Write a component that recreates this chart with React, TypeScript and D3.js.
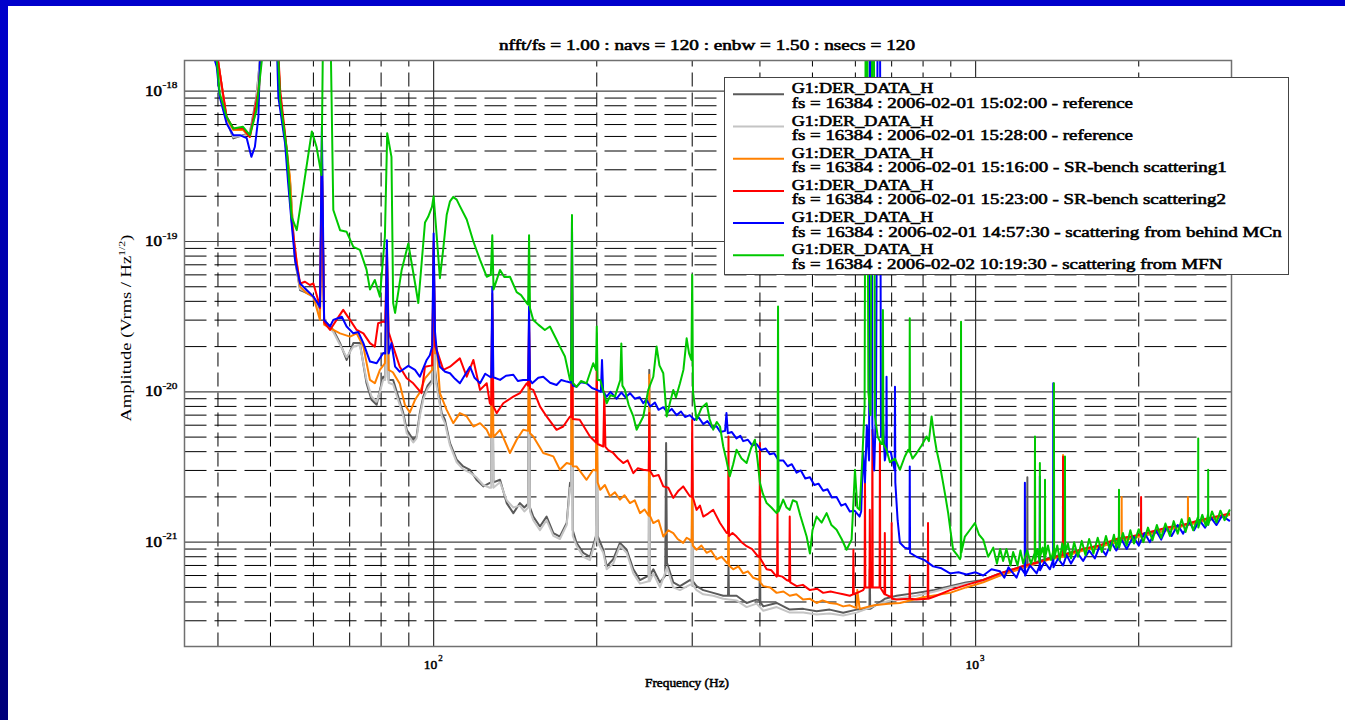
import React from 'react';
import * as d3 from 'd3';

type Pt = [number, number];

// ---------- text / categories ----------
const titleText = 'nfft/fs = 1.00 : navs = 120 : enbw = 1.50 : nsecs = 120';
const xAxisLabel = 'Frequency (Hz)';
const yAxisLabelMain = 'Amplitude (Vrms / Hz';
const yAxisLabelSup = '1/2';
const yAxisLabelEnd = ')';
const channelNames = ['G1:DER_DATA_H', 'G1:DER_DATA_H', 'G1:DER_DATA_H', 'G1:DER_DATA_H', 'G1:DER_DATA_H', 'G1:DER_DATA_H'];
const seriesDescs = [
  'fs = 16384 : 2006-02-01 15:02:00 - reference',
  'fs = 16384 : 2006-02-01 15:28:00 - reference',
  'fs = 16384 : 2006-02-01 15:16:00 - SR-bench scattering1',
  'fs = 16384 : 2006-02-01 15:23:00 - SR-bench scattering2',
  'fs = 16384 : 2006-02-01 14:57:30 - scattering from behind MCn',
  'fs = 16384 : 2006-02-02 10:19:30 - scattering from MFN',
];
const yTickExponents = [-21, -20, -19, -18];
const xTickExponents = [2, 3];

// axis extents (Hz, and amplitude in units of 1e-21 Vrms/Hz^1/2)
const AMP_UNIT_EXP = -21;
const freqRange: Pt = [34.7, 2966];
const ampRange: Pt = [0.2023, 1600];

// ---------- series: [frequency Hz, amplitude x 1e-21] ----------
const refA: Pt[] = [[36, 5000],[40, 1600],[41.5, 641],[42.7, 485],[44.5, 510],[45.8, 526],[47.1, 917],[47.8, 1600],[49, 5000],[50, 30000],[51, 5000],[52.1, 871],[54.3, 256],[55.5, 75],[56.7, 47.6],[58.3, 45.5],[60, 43],[61.7, 34],[62.2, 300],[62.8, 30],[65.3, 25.8],[67.2, 21.1],[69.1, 16.3],[71.1, 21.1],[73.1, 21.1],[75.2, 11.4],[76.8, 8.85],[78.5, 8.2],[79.6, 10.3],[80.7, 12.6],[81.4, 12.5],[82, 70],[82.6, 12],[84.2, 12],[87.9, 7.22],[89.2, 5.59],[91.7, 4.8],[93, 5.05],[94.3, 7.22],[95.7, 9.3],[97.5, 11],[99.4, 12],[100, 80],[100.6, 14],[101.3, 11.4],[103.5, 7.22],[104.9, 6.52],[107.2, 4.56],[110.3, 3.53],[113.4, 3.19],[116.7, 3.03],[120, 2.6],[123.5, 2.35],[127, 2.48],[127.7, 2.5],[128.3, 30],[128.9, 2.5],[132.6, 2.6],[136.4, 1.82],[140.3, 1.56],[144.3, 1.82],[147, 1.7],[149.4, 1.8],[150, 20],[150.6, 1.7],[152.7, 1.48],[157.1, 1.27],[161.6, 1.48],[166.3, 1.15],[171, 1.09],[176, 1.34],[178.5, 2.48],[179.4, 2.4],[180, 60],[180.6, 1.2],[183.5, 0.99],[188.8, 0.85],[194.3, 0.8],[199.3, 1.1],[200, 8],[200.7, 1.1],[205.6, 0.89],[208.6, 0.69],[214.5, 0.77],[220.7, 0.99],[227.1, 0.89],[233.6, 0.66],[240.3, 0.56],[249.4, 0.6],[250, 14],[250.6, 0.6],[254.3, 0.66],[261.6, 0.54],[267.5, 0.6],[268.5, 4.56],[269.5, 0.73],[276.8, 0.54],[284.8, 0.51],[297, 0.56],[299.3, 0.55],[300, 3],[300.7, 0.55],[305.6, 0.51],[314.4, 0.48],[328, 0.46],[342.3, 0.44],[349.3, 0.44],[350, 0.7],[350.7, 0.44],[362.2, 0.44],[378, 0.394],[394.4, 0.415],[399.3, 0.41],[400, 1.0],[400.7, 0.4],[405.7, 0.374],[429.4, 0.394],[454, 0.356],[480.8, 0.36],[508.9, 0.347],[538, 0.356],[569.8, 0.339],[603.2, 0.356],[637, 0.36],[638, 0.66],[639, 0.36],[680, 0.42],[715, 0.44],[778, 0.46],[840, 0.48],[897, 0.51],[960, 0.54],[1033, 0.56],[1109, 0.62],[1173, 0.66],[1233, 0.7],[1245, 0.7],[1246, 2.7],[1247, 0.7],[1296, 0.74],[1371, 0.79],[1472, 0.84],[1579, 0.9],[1694, 0.95],[1818, 1.02],[1954, 1.08],[2097, 1.15],[2251, 1.22],[2415, 1.3],[2587, 1.38],[2783, 1.46],[2946, 1.54]];

const refB: Pt[] = [[36, 5000],[40, 1600],[41.5, 650],[42.7, 495],[44.5, 505],[45.8, 515],[47.1, 880],[47.8, 1600],[49, 5000],[50, 30000],[51, 5000],[52.1, 880],[54.3, 260],[55.5, 78],[56.7, 48.5],[58.3, 46],[60, 42.5],[61.7, 33],[62.2, 280],[62.8, 29],[65.3, 25],[67.2, 20.5],[69.1, 17],[71.1, 20],[73.1, 20.5],[75.2, 12],[76.8, 9.3],[78.5, 8.6],[79.6, 10],[80.7, 12],[81.4, 12],[82, 65],[82.6, 11.5],[84.2, 11.2],[87.9, 6.9],[89.2, 5.3],[91.7, 4.6],[93, 4.9],[94.3, 6.9],[95.7, 8.9],[97.5, 10.5],[99.4, 11.5],[100, 75],[100.6, 13],[101.3, 10.8],[103.5, 6.9],[104.9, 6.2],[107.2, 4.4],[110.3, 3.4],[113.4, 3.05],[116.7, 2.9],[120, 2.7],[123.5, 2.4],[127, 2.3],[127.7, 2.3],[128.3, 28],[128.9, 2.3],[132.6, 2.5],[136.4, 1.9],[140.3, 1.7],[144.3, 1.75],[147, 1.6],[149.4, 1.7],[150, 18],[150.6, 1.6],[152.7, 1.4],[157.1, 1.2],[161.6, 1.4],[166.3, 1.1],[171, 1.05],[176, 1.3],[178.5, 2.3],[179.4, 2.3],[180, 55],[180.6, 1.1],[183.5, 0.95],[188.8, 0.8],[194.3, 0.76],[199.3, 1.05],[200, 7],[200.7, 1.0],[205.6, 0.85],[208.6, 0.66],[214.5, 0.72],[220.7, 0.95],[227.1, 0.85],[233.6, 0.62],[240.3, 0.53],[249.4, 0.55],[250, 12],[250.6, 0.55],[254.3, 0.62],[261.6, 0.5],[269.5, 0.68],[276.8, 0.5],[284.8, 0.48],[297, 0.52],[299.3, 0.52],[300, 2.6],[300.7, 0.52],[305.6, 0.48],[314.4, 0.45],[328, 0.44],[342.3, 0.42],[362.2, 0.41],[378, 0.37],[394.4, 0.39],[405.7, 0.35],[429.4, 0.37],[454, 0.34],[480.8, 0.34],[508.9, 0.33],[538, 0.335],[569.8, 0.325],[603.2, 0.34],[680, 0.4],[715, 0.42],[778, 0.44],[840, 0.47],[897, 0.5],[960, 0.53],[1033, 0.55],[1109, 0.6],[1173, 0.64],[1233, 0.68],[1296, 0.72],[1371, 0.77],[1472, 0.82],[1579, 0.88],[1694, 0.93],[1818, 1.0],[1954, 1.06],[2097, 1.12],[2251, 1.2],[2415, 1.28],[2587, 1.36],[2783, 1.44],[2946, 1.52]];

const srBench1: Pt[] = [[36, 5000],[40, 1600],[41.5, 660],[42.7, 551],[44.5, 551],[45.8, 495],[47.5, 871],[48, 1600],[49, 5000],[50, 30000],[51, 5000],[52.1, 940],[54.3, 270],[55.1, 108],[56.7, 50.1],[58.3, 45.3],[60, 43],[61.7, 30.1],[62.2, 300],[62.8, 28],[65.3, 25.8],[67.2, 24.5],[70.1, 23.3],[72.1, 24.5],[74.2, 20],[76.3, 12],[77.9, 11.4],[79.6, 14],[81.3, 15.5],[82, 80],[82.6, 14],[84.1, 13.5],[86.6, 11.3],[88.5, 8.2],[90.4, 7.3],[92.4, 8.85],[94.3, 9.9],[96.4, 12.3],[99.4, 14],[100, 90],[100.6, 18],[101.3, 20],[102.7, 9.8],[105.7, 7.59],[108.7, 6.19],[111.8, 7.22],[115.1, 6.86],[118.4, 5.88],[121.8, 6.19],[125.3, 5.59],[127, 5.05],[127.7, 5],[128.3, 45],[128.9, 5],[132.6, 5.59],[138.3, 3.92],[142.3, 4.8],[146.3, 5.59],[149.4, 5.5],[150, 25],[150.6, 5.3],[152.7, 5.05],[159.3, 3.92],[166.3, 3.72],[171, 3.03],[176, 3.36],[179.4, 3.3],[180, 80],[180.6, 3.2],[183.5, 3.19],[191.5, 2.6],[197, 3.03],[199.3, 3],[200, 12],[200.7, 2.5],[203, 2.23],[207, 2.4],[211.6, 2.02],[216, 2.15],[220.7, 1.92],[225, 2.05],[230.3, 1.82],[235, 1.9],[240.3, 1.56],[245, 1.65],[249.4, 1.5],[250, 13],[250.6, 1.5],[254.3, 1.34],[260, 1.4],[265.3, 1.09],[271, 1.2],[276.8, 1.15],[282, 1.05],[288.7, 0.99],[293, 1.07],[297, 1.04],[299.3, 1.0],[300, 4],[300.7, 0.95],[305.6, 0.89],[312, 0.95],[318.9, 0.85],[325, 0.88],[332.7, 0.77],[340, 0.8],[347.3, 0.73],[349.3, 0.72],[350, 2],[350.7, 0.7],[357.1, 0.66],[365, 0.69],[372.5, 0.62],[380, 0.64],[388.8, 0.58],[399.3, 0.56],[400, 1.5],[400.7, 0.54],[405.7, 0.51],[418, 0.5],[429.4, 0.46],[442, 0.47],[454, 0.44],[467, 0.45],[480.8, 0.415],[495, 0.42],[508.9, 0.394],[522, 0.41],[538, 0.394],[553, 0.39],[569.8, 0.374],[586, 0.38],[603.2, 0.364],[605, 0.48],[611, 0.36],[650, 0.38],[690, 0.39],[725, 0.394],[800, 0.43],[897, 0.46],[960, 0.5],[1033, 0.54],[1109, 0.6],[1173, 0.64],[1233, 0.68],[1286, 0.72],[1287, 5.0],[1288, 0.72],[1371, 0.77],[1449, 0.8],[1450, 3.8],[1451, 0.8],[1579, 0.88],[1694, 0.93],[1818, 1.0],[1859, 1.02],[1860, 2.0],[1861, 1.02],[1954, 1.07],[2097, 1.13],[2251, 1.2],[2415, 1.28],[2464, 1.3],[2465, 2.0],[2466, 1.3],[2587, 1.36],[2783, 1.44],[2946, 1.52]];

const srBench2: Pt[] = [[36, 5000],[40, 1600],[41.5, 675],[42.7, 565],[44.5, 565],[45.8, 497],[47.5, 1015],[48, 1600],[49, 5000],[50, 30000],[51, 5000],[52.1, 1015],[53.6, 405],[54.7, 139],[55.9, 71.5],[56.7, 52.6],[57.9, 54],[59.1, 51.4],[60, 52.6],[61.2, 40.9],[61.7, 36],[62.2, 400],[62.8, 29],[64.4, 25.8],[66.2, 30.1],[68.1, 35.1],[70.1, 30.1],[72.1, 25.8],[74.2, 24.5],[76.3, 21.1],[77.9, 20],[79, 28.6],[80.7, 29.3],[81.4, 29],[82, 90],[82.6, 25],[84.2, 20],[86.6, 14.7],[89.2, 12.3],[91.7, 11.4],[95, 9.8],[96.4, 14.7],[99.4, 15],[100, 100],[100.6, 20],[101.3, 19],[104.2, 14],[107.2, 14.7],[111.8, 16.7],[115.1, 12.6],[118.4, 16.3],[121.8, 10.3],[125.3, 11.4],[127, 8.4],[127.7, 8.2],[128.3, 40],[128.9, 8],[130.7, 7.22],[134.4, 8.4],[140.3, 9.3],[144.3, 9.8],[148.5, 11.4],[149.4, 11],[150, 30],[150.6, 10.5],[152.7, 10.3],[157.1, 8],[161.6, 6.86],[168.6, 5.59],[173.4, 5.88],[178.5, 6.86],[179.4, 6.8],[180, 100],[180.6, 6.6],[186, 6.52],[194.3, 5.05],[199.3, 4.6],[200, 16],[200.7, 4.5],[205.6, 4.33],[206.5, 10],[207.5, 4.3],[210, 4.1],[214.5, 3.92],[219, 3.6],[223.8, 3.36],[228, 3.5],[233.6, 2.88],[238, 3.1],[243.7, 3.03],[249.4, 3],[250, 7.22],[250.6, 3],[254.3, 2.74],[260, 2.8],[265.3, 2.35],[271, 2.3],[276.8, 1.97],[283, 2.2],[288.7, 2.35],[297, 2.02],[299.3, 2],[300, 6.5],[300.7, 2],[305.6, 1.64],[310, 1.75],[314.4, 1.48],[321, 1.55],[328, 1.64],[337.6, 1.34],[347.3, 1.15],[349.3, 1.15],[350, 5.05],[350.7, 1.1],[356, 1.15],[362.2, 1.09],[370, 1.0],[378, 0.94],[387, 0.9],[397, 0.8],[399.3, 0.8],[400, 4.56],[400.7, 0.78],[411.6, 0.66],[420, 0.65],[429.4, 0.59],[430.3, 0.6],[431, 1.64],[431.7, 0.6],[440, 0.59],[448, 0.56],[453, 0.55],[454, 1.48],[455, 0.54],[467.5, 0.51],[480, 0.52],[494.7, 0.48],[510, 0.49],[523.3, 0.46],[540, 0.47],[554, 0.46],[570, 0.45],[586, 0.44],[594, 0.45],[595, 0.89],[596, 0.45],[620.3, 0.48],[624, 0.5],[625, 3],[626, 0.5],[637, 0.5],[638, 1.64],[639, 0.5],[644, 0.5],[645, 5.6],[646, 0.5],[665, 0.5],[666, 4.6],[667, 0.5],[679, 0.45],[680, 1.15],[681, 0.45],[699, 0.43],[700, 1.34],[701, 0.42],[715, 0.415],[755, 0.42],[756, 0.6],[757, 0.42],[778, 0.415],[816, 0.42],[817, 1.34],[818, 0.42],[847, 0.44],[897, 0.48],[962, 0.52],[1033, 0.56],[1109, 0.62],[1173, 0.66],[1233, 0.7],[1296, 0.73],[1371, 0.78],[1449, 0.82],[1450, 3.7],[1451, 0.82],[1579, 0.9],[1694, 0.95],[1818, 1.05],[1954, 1.1],[2019, 1.13],[2020, 2.0],[2021, 1.13],[2097, 1.17],[2251, 1.25],[2415, 1.3],[2587, 1.4],[2783, 1.48],[2946, 1.55]];

const behindMCn: Pt[] = [[36, 5000],[39.8, 1450],[40.3, 917],[41.5, 610],[42.7, 510],[43.9, 510],[45.2, 487],[46.1, 366],[46.8, 427],[47.5, 675],[47.8, 1600],[49, 5000],[50, 30000],[51, 5000],[51.7, 917],[53.2, 449],[53.9, 244],[54.7, 132],[55.5, 75.4],[56.7, 52.6],[58.3, 47.6],[60, 43],[61.7, 36.9],[62.2, 580],[62.8, 30],[64.4, 27.2],[65.3, 30.1],[67.7, 31.6],[69.1, 27.2],[71.1, 24.5],[72.6, 25],[74.2, 21.1],[76.3, 15.9],[78.5, 15.5],[80.7, 18.1],[81.4, 18],[82, 102],[82.6, 18],[83.6, 21.1],[84.9, 14.7],[86.6, 13.6],[89.8, 14.9],[92.4, 14],[94.3, 12.6],[97.1, 16.3],[98.4, 17.5],[99.4, 20],[100, 113],[100.6, 25],[101.3, 19],[102.7, 14.7],[105, 13.6],[107.2, 13.3],[109.5, 12.2],[111.8, 11.4],[114, 12.8],[116.7, 14.7],[119, 12.4],[121.8, 11.4],[124.5, 13.2],[127, 12.6],[127.7, 12.5],[128.3, 50],[128.9, 12.5],[132.6, 12],[136, 12.8],[140.3, 13],[143, 11.8],[146.3, 12],[149.4, 12],[150, 36.9],[150.6, 12],[152, 11.4],[156, 12.4],[159.3, 12.6],[164, 11.5],[168.6, 11.1],[172, 12],[176, 11.7],[179.4, 11.5],[180, 140],[180.6, 11],[183.5, 10.8],[187, 11.6],[191.5, 11.4],[196, 10.6],[200, 10.3],[203.5, 10],[204.5, 16.3],[205.5, 10],[208.6, 9.3],[212, 10],[217.6, 9.0],[222, 9.9],[226, 9.2],[230.3, 9.8],[235, 9.0],[240, 9.2],[243.7, 8.4],[247, 8.9],[251, 8],[256, 8.5],[260, 7.6],[265.3, 7.9],[270, 7.3],[275, 7.7],[280.8, 7.0],[286, 7.4],[291, 6.8],[297, 7.0],[303, 6.5],[308, 6.8],[314.4, 6.1],[320, 6.4],[326, 5.8],[332.7, 5.9],[338, 5.4],[345, 5.5],[347, 7.22],[349, 5.3],[355, 5.4],[362, 4.9],[368, 5.1],[372.5, 4.7],[380, 4.8],[387, 4.4],[394.4, 4.5],[402, 4.1],[410, 4.2],[417, 3.85],[425, 3.9],[433, 3.5],[441.6, 3.5],[450, 3.2],[458, 3.3],[467.5, 2.9],[476, 3.0],[485, 2.65],[494.7, 2.7],[504, 2.4],[513, 2.45],[523.3, 2.2],[533, 2.25],[543, 1.98],[554, 2.0],[565, 1.75],[575, 1.8],[586, 1.6],[598, 1.62],[611, 1.48],[615, 1.6],[620, 4],[625, 2.5],[630, 6],[636, 3.5],[638, 5000],[642, 5000],[645, 6],[650, 3],[655, 8],[660, 5000],[666, 5000],[669, 5],[674, 7],[680, 3.5],[684, 4],[685, 12.6],[686, 4],[697, 4],[709, 3],[710, 10.8],[711, 2.5],[718, 1.4],[725, 0.99],[740, 0.92],[755, 0.9],[756, 3.19],[757, 0.85],[778, 0.8],[805, 0.76],[835, 0.69],[865, 0.67],[897, 0.62],[930, 0.63],[962, 0.61],[1000, 0.63],[1033, 0.6],[1070, 0.66],[1109, 0.64],[1130, 0.58],[1150, 0.68],[1190, 0.58],[1210, 0.68],[1232, 0.62],[1233, 2.48],[1234, 0.6],[1260, 0.7],[1296, 0.62],[1313, 0.7],[1314, 2.74],[1315, 0.65],[1340, 0.74],[1371, 0.66],[1390, 0.76],[1391, 11.4],[1392, 0.68],[1420, 0.78],[1450, 0.7],[1472, 0.82],[1500, 0.72],[1540, 0.85],[1579, 0.75],[1620, 0.88],[1660, 0.78],[1694, 0.94],[1740, 0.82],[1780, 1.0],[1818, 0.88],[1860, 1.04],[1900, 0.9],[1954, 1.09],[2000, 0.95],[2050, 1.15],[2097, 1.0],[2150, 1.2],[2200, 1.04],[2251, 1.25],[2300, 1.1],[2360, 1.3],[2415, 1.14],[2480, 1.36],[2530, 1.2],[2587, 1.4],[2650, 1.25],[2720, 1.45],[2783, 1.3],[2850, 1.5],[2946, 1.38]];

const fromMFN: Pt[] = [[36, 5000],[39.8, 1600],[40.3, 970],[41.5, 675],[42.7, 565],[44.5, 579],[45.8, 510],[47.1, 748],[48.2, 1600],[49, 5000],[50, 30000],[51, 5000],[51.7, 1600],[52.1, 871],[53.6, 405],[54.7, 146],[55.9, 119],[57.4, 220],[59.6, 540],[60.8, 427],[62.1, 277],[62.6, 4000],[64.4, 4000],[65.3, 162],[67.2, 119],[69.1, 116],[71.1, 92],[73.1, 88],[75.2, 65],[76.3, 48],[77.9, 55.5],[79.6, 43],[81.3, 108],[82.1, 526],[83.6, 366],[84.2, 39],[84.9, 33.5],[87.3, 64.7],[89.8, 97],[92.4, 53],[93.7, 39],[96.4, 134],[97.7, 146],[99.3, 170],[100, 200],[101.3, 110],[102.7, 57],[104.2, 90],[105.7, 150],[107.2, 185],[108.7, 198],[110.3, 190],[111.8, 172],[115.1, 140],[118.4, 100],[121.8, 75.4],[125.3, 58.3],[127.5, 60],[128.3, 110],[129, 48],[132.6, 64.7],[135, 58],[138.3, 58.3],[142.3, 46],[145, 44],[148.5, 39],[149.4, 38],[150, 110],[150.6, 36],[152.7, 30],[156, 28],[160.4, 25.8],[163.9, 27.2],[168.6, 22.2],[171, 20],[174.7, 17.2],[178.5, 12],[179.4, 12],[180, 150],[180.6, 11.5],[183.5, 10.8],[187, 11.8],[191.5, 11.4],[197, 15.5],[199.3, 14],[200, 27.2],[200.7, 12],[203, 12],[208.6, 8.4],[212, 9.5],[216, 9.3],[221, 12],[222, 21],[223, 11],[225.4, 10.3],[229, 8.2],[233.6, 6.86],[236.9, 5.59],[243.7, 6.86],[248.9, 10.3],[254.3, 12.6],[257.9, 20],[261, 15],[265.3, 13.3],[269.2, 6.86],[273, 8.5],[276.8, 10.3],[280, 9.2],[284.8, 11.4],[289, 14],[293, 22.7],[296, 18],[299, 16.3],[300, 60],[301, 10],[305.6, 6.5],[312, 7.8],[318.9, 8.4],[323, 6.6],[328, 5.6],[333, 6.3],[337.6, 5.88],[342.3, 4.33],[347, 3.5],[351.8, 2.74],[357, 3.3],[362.2, 4.12],[370, 3.6],[378, 3.36],[385, 4.2],[391.6, 4.8],[396, 3.5],[400, 2.48],[405, 2.1],[411.6, 1.82],[420, 1.7],[429.4, 1.56],[431, 1.6],[432, 36.9],[433, 1.6],[441.6, 1.92],[448, 1.7],[454, 1.64],[460, 1.9],[467.5, 1.85],[475, 1.5],[487.8, 1.09],[494.7, 0.84],[500, 1.2],[508.9, 1.48],[520, 1.35],[531, 1.56],[542, 1.3],[554, 1.21],[566, 1.05],[578, 0.89],[590.5, 1.04],[599, 3.03],[605, 1.7],[611, 1.64],[618, 3.6],[624, 8],[627, 5000],[631, 5000],[634, 10],[640, 7],[645, 5000],[649, 5000],[652, 6.9],[660, 5],[670, 4.5],[673, 4.5],[674.5, 35],[676, 4.5],[685, 4.1],[695, 3.4],[710, 3.6],[725, 3.03],[740, 3.7],[751, 4.12],[755, 4],[756, 30.9],[757, 4],[765, 3.6],[778, 3.9],[795, 4.4],[812, 5.05],[820, 4.7],[829.5, 6.86],[838, 5.2],[847, 4.12],[860, 3.2],[871, 2.48],[880, 2.0],[890, 1.56],[900, 1.15],[909, 0.89],[925, 0.82],[936, 0.77],[939, 0.8],[940, 29.3],[941, 0.85],[955.6, 1.09],[975, 1.2],[997, 1.34],[1015, 1.12],[1033, 1.04],[1055, 0.8],[1078, 0.92],[1095, 0.72],[1110, 0.9],[1124, 0.75],[1140, 0.9],[1160, 0.7],[1173, 0.86],[1195, 0.7],[1210, 0.88],[1224, 0.72],[1245, 0.88],[1265, 0.72],[1286, 0.85],[1287, 5.05],[1288, 0.75],[1300, 0.9],[1313, 0.74],[1314, 3.36],[1315, 0.8],[1330, 0.92],[1342, 0.76],[1343, 2.6],[1344, 0.8],[1360, 0.95],[1378, 0.76],[1394, 0.9],[1395, 11.4],[1396, 0.78],[1415, 0.95],[1430, 0.76],[1445, 0.98],[1461, 0.8],[1462, 3.72],[1463, 0.85],[1480, 0.98],[1500, 0.78],[1520, 1.0],[1545, 0.8],[1570, 1.02],[1595, 0.82],[1620, 1.05],[1650, 0.84],[1680, 1.07],[1710, 0.86],[1740, 1.1],[1770, 0.88],[1800, 1.12],[1818, 0.92],[1838, 1.1],[1839, 2.23],[1840, 0.92],[1870, 1.15],[1900, 0.95],[1930, 1.2],[1960, 0.98],[2000, 1.22],[2040, 1.0],[2080, 1.25],[2120, 1.03],[2160, 1.3],[2200, 1.07],[2240, 1.33],[2283, 1.1],[2320, 1.38],[2360, 1.14],[2400, 1.42],[2440, 1.17],[2480, 1.45],[2520, 1.2],[2574, 1.48],[2575, 4.9],[2576, 1.25],[2620, 1.52],[2660, 1.28],[2685, 1.55],[2686, 3.03],[2687, 1.3],[2730, 1.6],[2783, 1.35],[2830, 1.62],[2880, 1.4],[2946, 1.65]];

const seriesData = [refA, refB, srBench1, srBench2, behindMCn, fromMFN];
const seriesColors = ['#5a5a5a', '#c4c4c4', '#ff8000', '#ff0000', '#0000ff', '#00c800'];

// ---------- layout ----------
const W = 1345, H = 720;
const M = { l: 184.5, r: 1231.5, t: 60.5, b: 646.5 };
const SERIF = 'Liberation Serif, Times New Roman, serif';
const BOLD = { fontFamily: SERIF, fontWeight: 400, stroke: '#000', strokeWidth: 0.55, fill: '#000' } as const;
const legendTextWidths1 = [141.6, 141.6, 141.6, 141.6, 141.6, 141.6];
const legendTextWidths2 = [341.3, 341.3, 435, 434.3, 490, 430.6];

export default function App() {
  const x = d3.scaleLog().domain(freqRange).range([M.l, M.r]);
  const y = d3.scaleLog().domain(ampRange).range([M.b, M.t]);
  const line = d3.line<Pt>().x(d => x(d[0])).y(d => y(d[1]));
  const isMajor = (v: number) => Math.abs(Math.log10(v) - Math.round(Math.log10(v))) < 1e-6;
  const xt = x.ticks();
  const yt = y.ticks();
  const unitScale = (e: number) => Math.pow(10, e - AMP_UNIT_EXP);

  const legX = 724.5, legY = 77.5, legW = 564, legH = 197, legStep = 32.2;

  return (
    <svg width={W} height={H} style={{ position: 'absolute', left: 0, top: 0, display: 'block', background: '#fff' }}>
      <defs>
        <linearGradient id="leftband" x1="0" y1="0" x2="0" y2="1">
          <stop offset="0" stopColor="#0000cc" />
          <stop offset="1" stopColor="#00007a" />
        </linearGradient>
        <clipPath id="plotclip">
          <rect x={M.l} y={M.t} width={M.r - M.l} height={M.b - M.t} />
        </clipPath>
      </defs>
      <rect x={0} y={0} width={W} height={H} fill="#fff" />
      <rect x={0} y={0} width={W} height={6} fill="#0000cc" />
      <rect x={0} y={0} width={8} height={H} fill="url(#leftband)" />

      {/* grid */}
      <g>
        {yt.filter(v => !isMajor(v)).map((v, i) => (
          <line key={'yh' + i} x1={M.l} x2={M.r} y1={y(v)} y2={y(v)} stroke="#000" strokeWidth={1} strokeDasharray="22,8" />
        ))}
        {xt.filter(v => !isMajor(v)).map((v, i) => (
          <line key={'xv' + i} x1={x(v)} x2={x(v)} y1={M.b} y2={M.t} stroke="#000" strokeWidth={1} strokeDasharray="14,6" />
        ))}
        {yt.filter(v => isMajor(v)).map((v, i) => (
          <line key={'yM' + i} x1={M.l} x2={M.r} y1={y(v)} y2={y(v)} stroke="#444" strokeWidth={1.2} />
        ))}
        {xt.filter(v => isMajor(v)).map((v, i) => (
          <line key={'xM' + i} x1={x(v)} x2={x(v)} y1={M.b} y2={M.t} stroke="#333" strokeWidth={1.2} />
        ))}
      </g>

      {/* series */}
      <g clipPath="url(#plotclip)">
        {seriesData.map((s, i) => (
          <path key={'s' + i} d={line(s) || ''} fill="none" stroke={seriesColors[i]} strokeWidth={2} strokeLinejoin="round" />
        ))}
      </g>

      {/* frame */}
      <rect x={M.l} y={M.t} width={M.r - M.l} height={M.b - M.t} fill="none" stroke="#707070" strokeWidth={1.5} />

      {/* title */}
      <text x={707} y={50} textAnchor="middle" style={BOLD} fontSize={14}
        textLength={416} lengthAdjust="spacingAndGlyphs">{titleText}</text>

      {/* y tick labels */}
      {yTickExponents.map(e => {
        const yy = y(unitScale(e));
        return (
          <g key={'yl' + e}>
            <text x={162} y={yy + 4.5} textAnchor="end" style={BOLD} fontSize={14} textLength={17} lengthAdjust="spacingAndGlyphs">10</text>
            <text x={162.5} y={yy - 3} style={{ ...BOLD, strokeWidth: 0.35 }} fontSize={9} textLength={15} lengthAdjust="spacingAndGlyphs">{String(e)}</text>
          </g>
        );
      })}

      {/* x tick labels */}
      {xTickExponents.map(e => {
        const xx = x(Math.pow(10, e));
        return (
          <g key={'xl' + e}>
            <text x={xx + 3.5} y={669} textAnchor="end" style={BOLD} fontSize={13.5}>10</text>
            <text x={xx + 4.5} y={661} style={{ ...BOLD, strokeWidth: 0.35 }} fontSize={9}>{String(e)}</text>
          </g>
        );
      })}

      {/* axis labels */}
      <text x={687} y={687} textAnchor="middle" style={BOLD} fontSize={13.5} textLength={84} lengthAdjust="spacingAndGlyphs">{xAxisLabel}</text>
      <g transform="translate(131,328) rotate(-90)">
        <text x={0} y={0} textAnchor="middle" style={{ fontFamily: SERIF }} fontSize={14} textLength={187} lengthAdjust="spacingAndGlyphs">
          {yAxisLabelMain}
          <tspan dy={-6} fontSize={9}>{yAxisLabelSup}</tspan>
          <tspan dy={6}>{yAxisLabelEnd}</tspan>
        </text>
      </g>

      {/* legend */}
      <rect x={legX} y={legY} width={legW} height={legH} fill="#fff" stroke="#444" strokeWidth={1} />
      {seriesDescs.map((d, i) => (
        <g key={'lg' + i}>
          <line x1={733} x2={784} y1={94.3 + legStep * i} y2={94.3 + legStep * i} stroke={seriesColors[i]} strokeWidth={2} />
          <text x={791.7} y={93.3 + legStep * i} style={BOLD} fontSize={14} textLength={legendTextWidths1[i]} lengthAdjust="spacingAndGlyphs">{channelNames[i]}</text>
          <text x={791.7} y={107.7 + legStep * i} style={BOLD} fontSize={14} textLength={legendTextWidths2[i]} lengthAdjust="spacingAndGlyphs">{d}</text>
        </g>
      ))}
    </svg>
  );
}
